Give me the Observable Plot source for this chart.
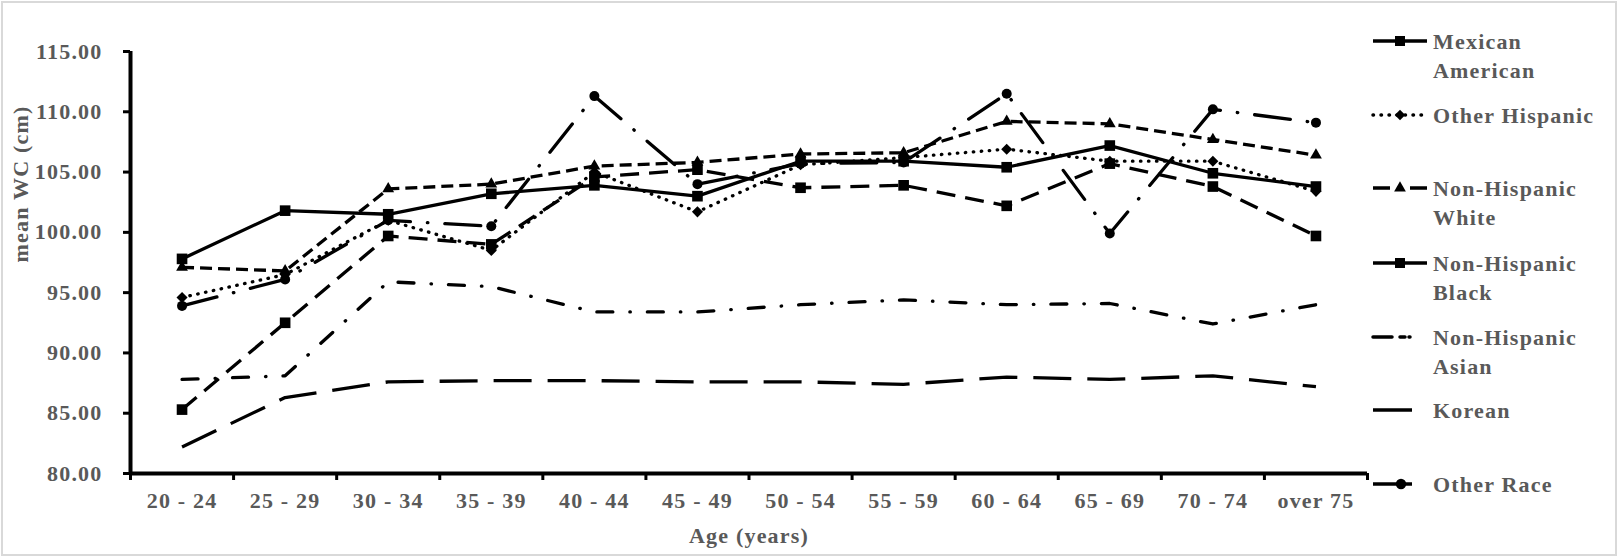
<!DOCTYPE html>
<html>
<head>
<meta charset="utf-8">
<script src="https://cdn.jsdelivr.net/npm/d3@7"></script>
<script src="https://cdn.jsdelivr.net/npm/@observablehq/plot@0.6"></script>
<style>
  body { margin: 0; background: #fff; }
  #wrap { position: relative; width: 1622px; height: 557px; overflow: hidden; background: #fff; }
  #legend { position: absolute; left: 0; top: 0; }
  #border { position: absolute; left: 1px; top: 1px; width: 1612px; height: 551px; border: 2px solid #d9d9d9; pointer-events: none; }
</style>
</head>
<body>
<div id="wrap">
  <div id="chart"></div>
  <svg id="legend" width="1622" height="557"></svg>
  <div id="border"></div>
</div>
<script>
// ---- Data ----
const ageGroups = ["20 - 24", "25 - 29", "30 - 34", "35 - 39", "40 - 44", "45 - 49",
                   "50 - 54", "55 - 59", "60 - 64", "65 - 69", "70 - 74", "over 75"];
const yTicks = [80, 85, 90, 95, 100, 105, 110, 115];

const mexicanAmerican  = [97.8, 101.8, 101.5, 103.2, 103.9, 103.0, 105.9, 105.9, 105.4, 107.2, 104.9, 103.8];
const otherHispanic    = [94.6, 96.5, 101.0, 98.5, 105.0, 101.7, 105.6, 106.2, 106.9, 105.9, 105.9, 103.4];
const nonHispanicWhite = [97.1, 96.8, 103.6, 104.0, 105.5, 105.8, 106.5, 106.6, 109.2, 109.0, 107.7, 106.4];
const nonHispanicBlack = [85.3, 92.5, 99.7, 99.0, 104.6, 105.2, 103.7, 103.9, 102.2, 105.7, 103.8, 99.7];
const nonHispanicAsian = [87.8, 88.1, 95.9, 95.5, 93.4, 93.4, 94.0, 94.4, 94.0, 94.1, 92.4, 94.0];
const korean           = [82.2, 86.3, 87.6, 87.7, 87.7, 87.6, 87.6, 87.4, 88.0, 87.8, 88.1, 87.2];
const otherRace        = [93.9, 96.1, 101.0, 100.5, 111.3, 104.0, 105.7, 105.8, 111.5, 99.9, 110.2, 109.1];

const seriesNames = [["Mexican", "American"], ["Other Hispanic"], ["Non-Hispanic", "White"],
                     ["Non-Hispanic", "Black"], ["Non-Hispanic", "Asian"], ["Korean"], ["Other Race"]];

// ---- Styles ----
const series = [
  {values: mexicanAmerican,  dash: null,          cap: "butt",  symbol: "square",   r: 6,   rotate: 0},
  {values: otherHispanic,    dash: "0.5,7.5",     cap: "round", symbol: "square",   r: 4.4, rotate: 45},
  {values: nonHispanicWhite, dash: "12,6",        cap: "butt",  symbol: "triangle", r: 4.4, rotate: 0},
  {values: nonHispanicBlack, dash: "19,10",       cap: "butt",  symbol: "square",   r: 6,   rotate: 0},
  {values: nonHispanicAsian, dash: "16,17,0.5,17",cap: "round", symbol: null},
  {values: korean,           dash: "38,16",       cap: "butt",  symbol: null},
  {values: otherRace,        dash: "36,17,0.5,17",cap: "round", symbol: "circle",   r: 5,   rotate: 0}
];

const textColor = "#595959";
const xPos = (d, i) => i + 0.5;

const marks = [];
// axis lines
marks.push(Plot.ruleY([80], {stroke: "black", strokeWidth: 4}));
marks.push(Plot.ruleX([0], {stroke: "black", strokeWidth: 4}));
// y axis ticks & labels
marks.push(Plot.axisY({ticks: yTicks, tickFormat: d => d.toFixed(2), tickSize: 7, tickPadding: 21,
  strokeWidth: 3, stroke: "black", fill: textColor, label: null}));
// x axis boundary ticks
marks.push(Plot.axisX({ticks: d3.range(0, ageGroups.length + 1), tickFormat: () => "", tickSize: 7,
  strokeWidth: 3, stroke: "black", label: null}));
// x category labels
marks.push(Plot.text(ageGroups, {x: xPos, text: d => d, frameAnchor: "bottom", dy: 34, fill: textColor}));
// axis titles
marks.push(Plot.text(["mean WC (cm)"], {text: d => d, frameAnchor: "left", rotate: -90, dx: -110, fill: textColor}));
marks.push(Plot.text(["Age (years)"], {text: d => d, frameAnchor: "bottom", dy: 69, fill: textColor}));

for (const s of series) {
  marks.push(Plot.line(s.values, {x: xPos, y: d => d, stroke: "black", strokeWidth: 3.3,
    strokeDasharray: s.dash || undefined, strokeLinecap: s.cap, strokeLinejoin: "round"}));
}
for (const s of series) {
  if (!s.symbol) continue;
  marks.push(Plot.dot(s.values, {x: xPos, y: d => d, symbol: s.symbol, r: s.r, rotate: s.rotate,
    fill: "black", stroke: "none"}));
}

const chart = Plot.plot({
  width: 1622,
  height: 557,
  marginLeft: 130,
  marginRight: 255,
  marginTop: 51,
  marginBottom: 84,
  x: {domain: [0, ageGroups.length], axis: null},
  y: {domain: [80, 115], axis: null},
  style: {
    fontFamily: "'Liberation Serif', 'Times New Roman', serif",
    fontSize: "22px",
    fontWeight: "bold",
    letterSpacing: "1.2px",
    color: "black",
    background: "white",
    overflow: "visible"
  },
  marks
});
document.getElementById("chart").appendChild(chart);

// ---- Legend ----
const legend = d3.select("#legend");
const lx0 = 1373, lx1 = 1427, ltx = 1433;
const itemY = [41, 115, 188, 263, 337, 410, 484];
const legendGlyphs = [
  {dash: null, cap: "butt", x1: lx1, sym: d3.symbolSquare, size: 100, rot: 0, mx: 1400},
  {dash: "0.5,7.5", cap: "round", x1: lx1, sym: d3.symbolSquare, size: 55, rot: 45, mx: 1400},
  {dash: "17,20", cap: "butt", x1: lx1, sym: d3.symbolTriangle, size: 60, rot: 0, mx: 1400},
  {dash: null, cap: "butt", x1: lx1, sym: d3.symbolSquare, size: 100, rot: 0, mx: 1400},
  {dash: "19,8,5,4,1,60", cap: "round", x1: 1413, sym: null},
  {dash: null, cap: "butt", x1: 1412, sym: null},
  {dash: null, cap: "butt", x1: 1412, sym: d3.symbolCircle, size: 85, rot: 0, mx: 1401}
];
seriesNames.forEach((lines, k) => {
  const g = legendGlyphs[k];
  const y = itemY[k];
  legend.append("line")
    .attr("x1", lx0).attr("x2", g.x1).attr("y1", y).attr("y2", y)
    .attr("stroke", "black").attr("stroke-width", 3.5)
    .attr("stroke-linecap", g.cap)
    .attr("stroke-dasharray", g.dash);
  if (g.sym) {
    legend.append("path")
      .attr("d", d3.symbol(g.sym, g.size)())
      .attr("transform", `translate(${g.mx},${y}) rotate(${g.rot})`)
      .attr("fill", "black");
  }
  const t = legend.append("text")
    .attr("x", ltx).attr("y", y + 7.5)
    .attr("fill", textColor)
    .style("font-family", "'Liberation Serif', 'Times New Roman', serif")
    .style("font-size", "22px").style("font-weight", "bold").style("letter-spacing", "1.2px");
  lines.forEach((ln, j) => {
    t.append("tspan").attr("x", ltx).attr("dy", j === 0 ? 0 : 29).text(ln);
  });
});
</script>
</body>
</html>
